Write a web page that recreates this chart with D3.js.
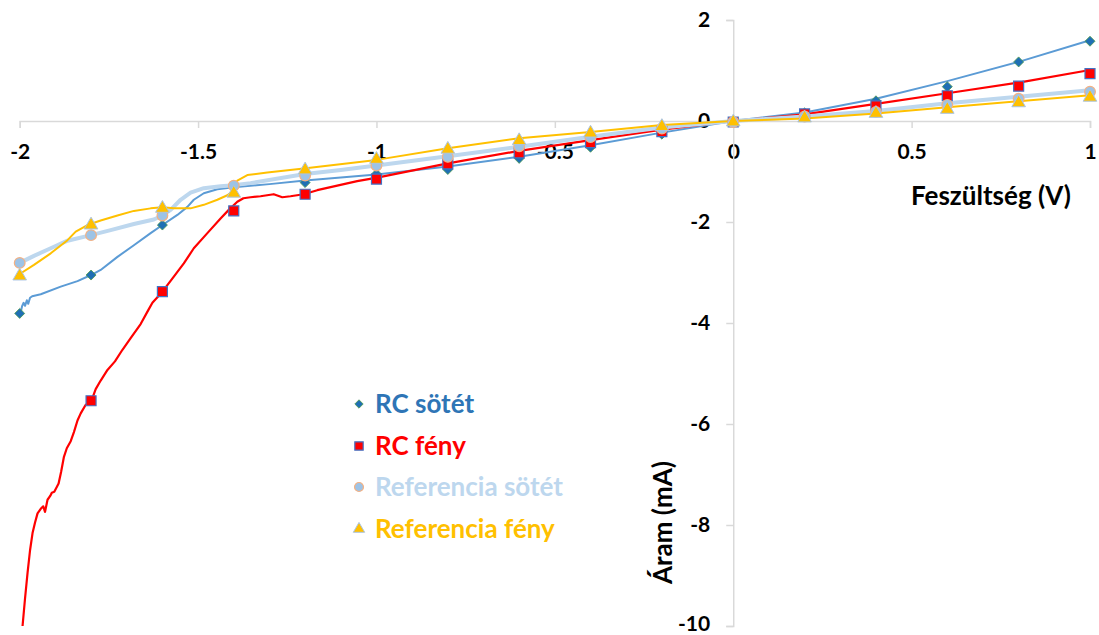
<!DOCTYPE html>
<html>
<head>
<meta charset="utf-8">
<script src="https://cdn.jsdelivr.net/npm/d3@7"></script>
<style>
  html, body { margin: 0; padding: 0; background: #fff; }
  svg { display: block; font-family: Lato, "Open Sans", sans-serif; font-weight: bold; }
</style>
</head>
<body>
<svg id="chart" width="1099" height="635"></svg>
<script>
// ---------- DATA ----------
const xTicks = [-2, -1.5, -1, -0.5, 0, 0.5, 1];
const yTicks = [2, 0, -2, -4, -6, -8, -10];
const xLabel = "Feszültség (V)";
const yLabel = "Áram (mA)";
const seriesNames = ["RC sötét", "RC fény", "Referencia sötét", "Referencia fény"];

// measured points (markers) at every 0.2 V
const voltages = [-2, -1.8, -1.6, -1.4, -1.2, -1.0, -0.8, -0.6, -0.4, -0.2, 0, 0.2, 0.4, 0.6, 0.8, 1.0];
const rcSotetPts  = [-3.81, -3.05, -2.06, -1.30, -1.22, -1.05, -0.96, -0.74, -0.52, -0.26, -0.02, 0.16, 0.40, 0.68, 1.17, 1.58];
const rcFenyPts   = [null, -5.54, -3.38, -1.78, -1.45, -1.15, -0.85, -0.63, -0.43, -0.21, -0.02, 0.14, 0.30, 0.50, 0.69, 0.94];
const refSotetPts = [-2.81, -2.26, -1.87, -1.28, -1.08, -0.88, -0.71, -0.50, -0.32, -0.15, -0.02, 0.09, 0.18, 0.32, 0.44, 0.58];
const refFenyPts  = [-3.07, -2.06, -1.73, -1.43, -0.97, -0.76, -0.56, -0.39, -0.24, -0.11, -0.02, 0.06, 0.15, 0.23, 0.36, 0.47];

// continuous sweep curves [V, mA]
const rcSotetCurve = [
  [-1.998,-3.81],[-1.993,-3.66],[-1.989,-3.60],[-1.985,-3.66],[-1.980,-3.55],[-1.976,-3.62],[-1.971,-3.50],
  [-1.965,-3.47],[-1.941,-3.43],[-1.885,-3.28],[-1.838,-3.17],[-1.800,-3.05],[-1.773,-2.95],[-1.726,-2.69],
  [-1.680,-2.46],[-1.633,-2.22],[-1.600,-2.06],[-1.558,-1.86],[-1.530,-1.70],[-1.512,-1.56],[-1.484,-1.43],
  [-1.446,-1.35],[-1.400,-1.31],[-1.300,-1.25],[-1.200,-1.18],[-1.100,-1.12],[-1.000,-1.06],[-0.800,-0.90],
  [-0.600,-0.71],[-0.400,-0.48],[-0.200,-0.23],[0,0],[0.2,0.17],[0.4,0.44],[0.6,0.79],[0.8,1.17],[1.0,1.60]
];
const rcFenyCurve = [
  [-1.992,-10.0],[-1.985,-9.45],[-1.978,-8.95],[-1.971,-8.50],[-1.964,-8.16],[-1.957,-7.95],[-1.950,-7.77],
  [-1.941,-7.68],[-1.934,-7.63],[-1.929,-7.74],[-1.922,-7.50],[-1.914,-7.42],[-1.910,-7.36],[-1.903,-7.34],
  [-1.891,-7.18],[-1.884,-6.95],[-1.876,-6.65],[-1.868,-6.48],[-1.857,-6.34],[-1.848,-6.16],[-1.838,-5.93],
  [-1.829,-5.79],[-1.815,-5.62],[-1.799,-5.54],[-1.787,-5.31],[-1.773,-5.14],[-1.754,-4.93],[-1.733,-4.76],
  [-1.712,-4.53],[-1.689,-4.30],[-1.661,-4.02],[-1.640,-3.75],[-1.628,-3.60],[-1.600,-3.38],[-1.568,-3.08],
  [-1.540,-2.82],[-1.512,-2.52],[-1.474,-2.22],[-1.437,-1.93],[-1.414,-1.76],[-1.390,-1.60],[-1.373,-1.53],
  [-1.353,-1.51],[-1.325,-1.49],[-1.288,-1.45],[-1.264,-1.51],[-1.241,-1.49],[-1.204,-1.45],[-1.166,-1.37],
  [-1.110,-1.28],[-1.054,-1.19],[-0.998,-1.12],[-0.800,-0.84],[-0.600,-0.59],[-0.400,-0.38],[-0.200,-0.17],
  [0,0],[0.2,0.13],[0.4,0.34],[0.6,0.55],[0.8,0.76],[1.0,1.01]
];
const refSotetCurve = [
  [-2.000,-2.81],[-1.960,-2.67],[-1.913,-2.52],[-1.866,-2.37],[-1.800,-2.26],[-1.745,-2.16],[-1.680,-2.04],
  [-1.624,-1.95],[-1.600,-1.87],[-1.577,-1.76],[-1.549,-1.56],[-1.521,-1.42],[-1.484,-1.33],[-1.437,-1.29],
  [-1.400,-1.27],[-1.353,-1.23],[-1.200,-1.05],[-1.100,-0.97],[-1.000,-0.88],[-0.800,-0.70],[-0.600,-0.51],
  [-0.400,-0.31],[-0.200,-0.13],[0,0],[0.2,0.09],[0.4,0.20],[0.6,0.35],[0.8,0.48],[1.0,0.61]
];
const refFenyCurve = [
  [-2.000,-3.03],[-1.960,-2.85],[-1.913,-2.62],[-1.866,-2.36],[-1.843,-2.19],[-1.810,-2.06],[-1.773,-1.97],
  [-1.726,-1.87],[-1.680,-1.78],[-1.633,-1.73],[-1.600,-1.71],[-1.568,-1.73],[-1.521,-1.73],[-1.484,-1.66],
  [-1.446,-1.56],[-1.418,-1.47],[-1.400,-1.37],[-1.390,-1.18],[-1.362,-1.07],[-1.306,-1.02],[-1.204,-0.94],
  [-1.000,-0.77],[-0.800,-0.54],[-0.600,-0.34],[-0.400,-0.22],[-0.200,-0.08],[0,0],[0.2,0.05],[0.4,0.15],
  [0.6,0.27],[0.8,0.39],[1.0,0.51]
];

// ---------- CHART ----------
const svg = d3.select("#chart");
const x = d3.scaleLinear().domain([-2, 1]).range([19.7, 1090]);
const y = d3.scaleLinear().domain([-10, 2]).range([626, 20]);
const axisColor = "#d9d9d9";

// x axis at y = 0
const gx = svg.append("g").attr("transform", `translate(0,${y(0)})`)
  .call(d3.axisBottom(x).tickValues(xTicks).tickSize(7).tickPadding(16).tickFormat(d => String(d)));
gx.select(".domain").attr("stroke", axisColor).attr("stroke-width", 1.5);
gx.selectAll(".tick line").attr("stroke", axisColor).attr("stroke-width", 1.5);
gx.selectAll(".tick text").attr("fill", "#000").attr("font-size", 21)
  .attr("font-family", "Lato, sans-serif").attr("font-weight", "bold");

// y axis at x = 0
const gy = svg.append("g").attr("transform", `translate(${x(0)},0)`)
  .call(d3.axisLeft(y).tickValues(yTicks).tickSize(7).tickPadding(16).tickFormat(d => String(d)));
gy.select(".domain").attr("stroke", axisColor).attr("stroke-width", 1.5);
gy.selectAll(".tick line").attr("stroke", axisColor).attr("stroke-width", 1.5);
gy.selectAll(".tick text").attr("fill", "#000").attr("font-size", 21)
  .attr("font-family", "Lato, sans-serif").attr("font-weight", "bold")
  .attr("dy", d => d === -10 ? "0.2em" : "0.32em");

// axis titles
svg.append("text").attr("x", 911).attr("y", 205).attr("font-size", 26).attr("fill", "#000").text(xLabel);
svg.append("text").attr("transform", "translate(672,584) rotate(-90)").attr("font-size", 26)
  .attr("fill", "#000").text(yLabel);

// clip
svg.append("defs").append("clipPath").attr("id", "plot")
  .append("rect").attr("x", 0).attr("y", 0).attr("width", 1099).attr("height", y(-10));

const line = d3.line().x(d => x(d[0])).y(d => y(d[1]));
const curves = [
  { data: rcSotetCurve,  color: "#5b9bd5", w: 2 },
  { data: rcFenyCurve,   color: "#ff0000", w: 2.2 },
  { data: refSotetCurve, color: "#bdd7ee", w: 4 },
  { data: refFenyCurve,  color: "#ffc000", w: 2 }
];
const lg = svg.append("g").attr("clip-path", "url(#plot)");
curves.forEach(c => {
  lg.append("path").datum(c.data).attr("d", line).attr("fill", "none")
    .attr("stroke", c.color).attr("stroke-width", c.w).attr("stroke-linejoin", "round");
});

// markers
const styles = [
  { vals: rcSotetPts,  type: d3.symbolDiamond2, size: 64, fill: "#1f6fb4", stroke: "#4e9a4e", sw: 0.8 },
  { vals: rcFenyPts,   type: d3.symbolSquare,  size: 100, fill: "#ff0000", stroke: "#4472c4", sw: 1.2 },
  { vals: refSotetPts, type: d3.symbolCircle,  size: 90, fill: "#9dc3e6", stroke: "#f4b183", sw: 1.2 },
  { vals: refFenyPts,  type: d3.symbolTriangle, size: 80, fill: "#ffc000", stroke: "#a9c4e4", sw: 1 }
];
const mg = svg.append("g");
styles.forEach(s => {
  const pts = voltages.map((v, i) => [v, s.vals[i]]).filter(p => p[1] !== null);
  mg.selectAll(null).data(pts).enter().append("path")
    .attr("transform", d => `translate(${x(d[0])},${y(d[1])})`)
    .attr("d", d3.symbol().type(s.type).size(s.size)())
    .attr("fill", s.fill).attr("stroke", s.stroke).attr("stroke-width", s.sw);
});

// legend
const legendColors = ["#2e75b6", "#ff0000", "#bdd7ee", "#ffc000"];
const legendY = [404, 446, 487, 529];
const leg = svg.append("g");
seriesNames.forEach((name, i) => {
  const s = styles[i];
  leg.append("path").attr("transform", `translate(359,${legendY[i]})`)
    .attr("d", d3.symbol().type(s.type).size(s.size * 0.7)())
    .attr("fill", s.fill).attr("stroke", s.stroke).attr("stroke-width", s.sw);
  leg.append("text").attr("x", 375).attr("y", legendY[i]).attr("dy", "0.35em")
    .attr("font-size", 26).attr("fill", legendColors[i]).text(name);
});
</script>
</body>
</html>
